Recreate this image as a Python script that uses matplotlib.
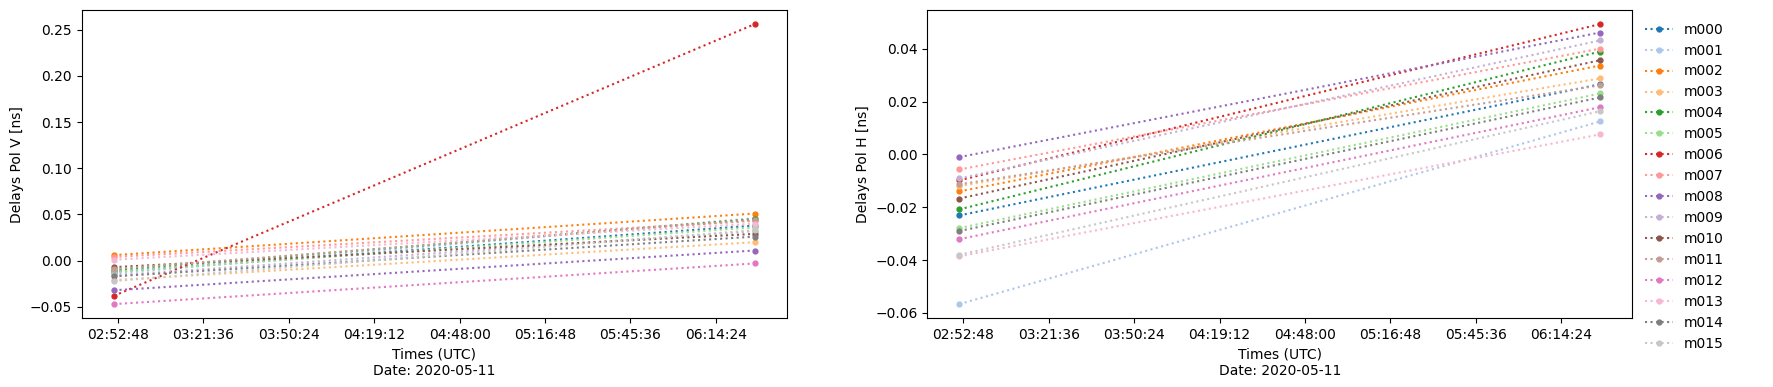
import datetime as dt
import matplotlib
matplotlib.use("Agg")
import matplotlib.pyplot as plt
import matplotlib.dates as mdates
from matplotlib.ticker import MultipleLocator, FuncFormatter

# antennas and the two solution times
antennas = ["m000", "m001", "m002", "m003", "m004", "m005", "m006", "m007",
            "m008", "m009", "m010", "m011", "m012", "m013", "m014", "m015"]
times = [dt.datetime(2020, 5, 11, 2, 51, 30), dt.datetime(2020, 5, 11, 6, 27, 30)]
date_str = "2020-05-11"

# delays [ns] at start / end, pol V
v_start = [-0.012, -0.014, 0.006, -0.021, -0.010, -0.012, -0.038, 0.004,
           -0.032, -0.016, -0.007, -0.009, -0.047, 0.001, -0.017, -0.022]
v_end = [0.038, 0.046, 0.051, 0.020, 0.045, 0.036, 0.256, 0.043,
         0.011, 0.032, 0.029, 0.044, -0.003, 0.040, 0.026, 0.033]

# pol H
h_start = [-0.0231, -0.0567, -0.0140, -0.0120, -0.0208, -0.0279, -0.0098, -0.0057,
           -0.0010, -0.0091, -0.0167, -0.0113, -0.0321, -0.0386, -0.0290, -0.0380]
h_end = [0.0266, 0.0125, 0.0337, 0.0288, 0.0390, 0.0231, 0.0494, 0.0401,
         0.0462, 0.0432, 0.0357, 0.0262, 0.0179, 0.0076, 0.0216, 0.0164]

colors = plt.get_cmap("tab20").colors


def fmt_time(v, pos):
    secs = int(round((v % 1) * 86400))
    return "%02d:%02d:%02d" % (secs // 3600, (secs // 60) % 60, secs % 60)


fig = plt.figure(figsize=(17.73, 3.87), dpi=100)
ax1 = fig.add_axes([0.0462, 0.178, 0.3976, 0.796])
ax2 = fig.add_axes([0.523, 0.178, 0.3976, 0.796])

for ax, start, end, pol in [(ax1, v_start, v_end, "V"), (ax2, h_start, h_end, "H")]:
    for i, ant in enumerate(antennas):
        ax.plot(times, [start[i], end[i]], ":", marker="o", ms=3.5,
                color=colors[i], label=ant)
    ax.xaxis.set_major_locator(MultipleLocator(0.02))
    ax.xaxis.set_major_formatter(FuncFormatter(fmt_time))
    ax.set_xlabel("Times (UTC)\nDate: " + date_str)
    ax.set_ylabel("Delays Pol %s [ns]" % pol)

ax2.legend(loc="upper left", bbox_to_anchor=(1.0, 1.0), frameon=False)

fig.savefig("out.png", dpi=100)
